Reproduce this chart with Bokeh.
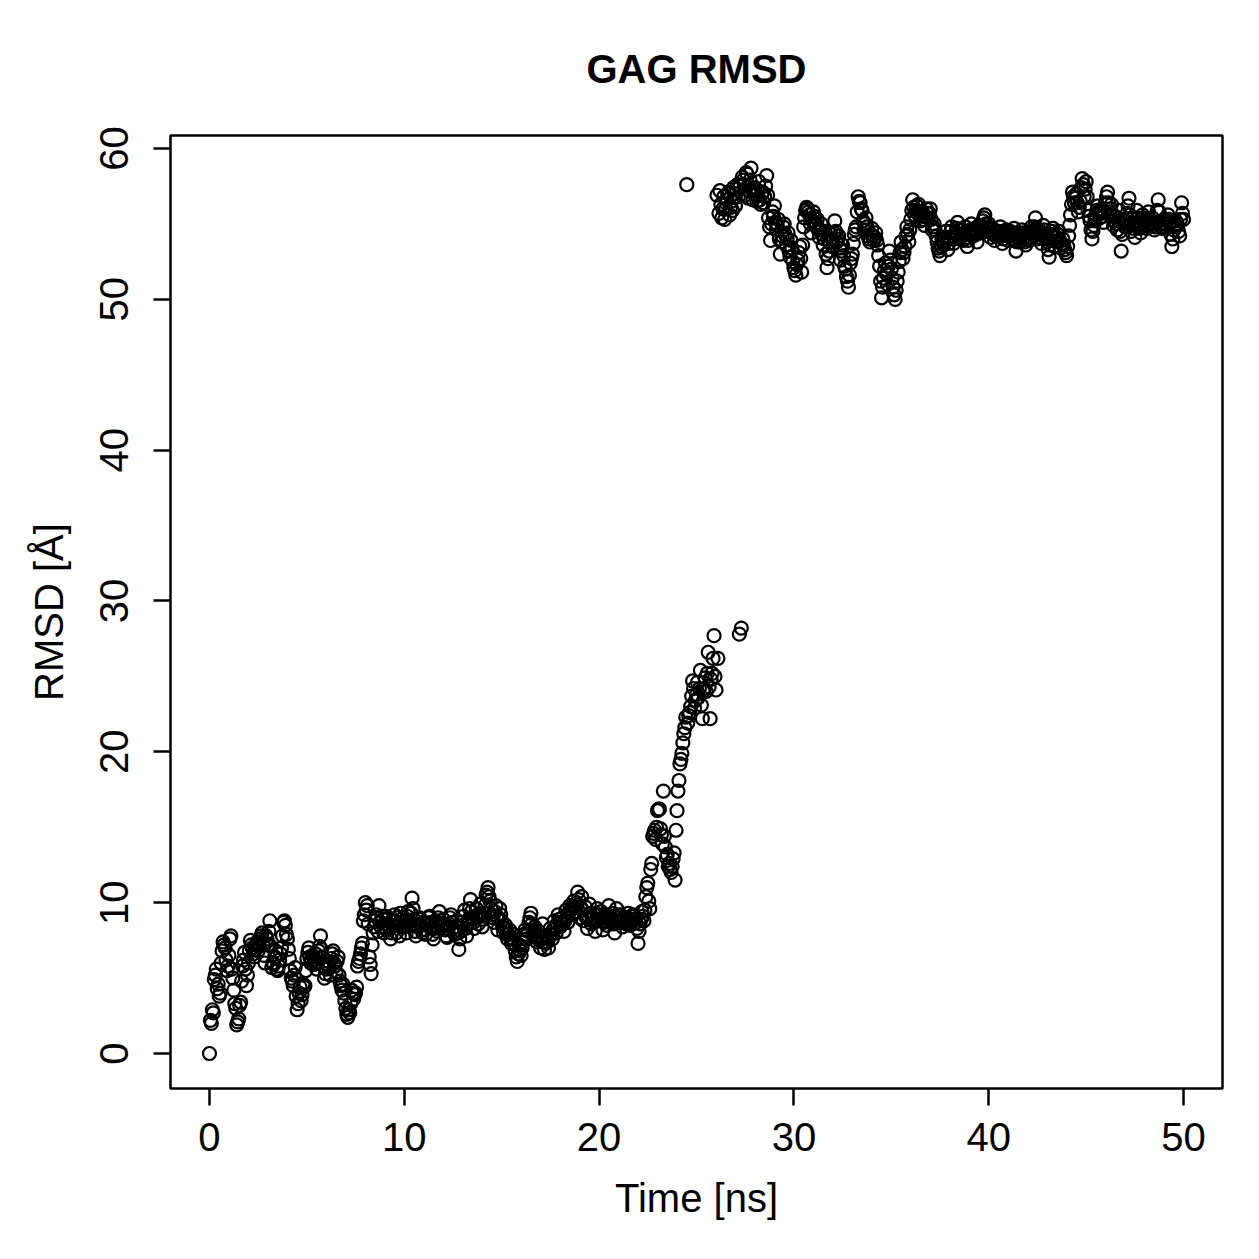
import numpy as np
from bokeh.plotting import figure
from bokeh.models import FixedTicker
from bokeh.embed import file_html
from bokeh.resources import INLINE

# GAG RMSD over a 50 ns trajectory, one frame every 0.05 ns.
# Frames at t = 0.0, 0.1, 0.2, ... (even frames)
rmsd_even_00_10 = [
    0.0, 2.0, 2.7, 5.2, 4.3, 3.8, 6.0, 7.4, 7.0, 5.5,
    6.5, 7.8, 5.0, 3.3, 1.9, 2.3, 3.4, 5.8, 6.7, 4.5,
    6.0, 7.5, 7.0, 6.4, 7.2, 6.8, 7.6, 8.0, 6.5, 7.8,
    7.2, 8.8, 5.7, 5.9, 6.8, 5.5, 6.2, 7.0, 8.7, 8.5,
    7.6, 6.3, 5.0, 4.5, 5.7, 2.9, 4.0, 3.5, 4.6, 4.5,
    6.3, 7.0, 6.0, 6.5, 6.2, 5.6, 6.8, 7.8, 6.4, 5.0,
    5.6, 6.1, 5.2, 6.6, 6.0, 5.4, 6.4, 4.8, 4.2, 4.0,
    3.0, 2.4, 2.7, 4.2, 3.6, 4.0, 5.8, 6.3, 7.0, 8.8,
    10.0, 9.8, 6.4, 5.3, 8.0, 8.8, 9.0, 9.8, 8.4, 8.9,
    8.6, 8.2, 9.0, 7.6, 8.9, 9.2, 8.0, 8.6, 9.3, 8.4,
]
rmsd_even_10_20 = [
    8.8, 8.0, 9.4, 8.5, 10.3, 8.9, 7.8, 8.4, 9.0, 8.2,
    8.7, 7.9, 8.6, 9.1, 8.3, 7.6, 8.8, 8.1, 9.4, 8.4,
    8.9, 8.2, 7.7, 8.6, 9.2, 8.3, 7.9, 8.8, 6.9, 8.1,
    8.5, 9.5, 7.8, 8.9, 10.2, 9.0, 8.3, 9.6, 8.6, 9.9,
    8.4, 9.3, 10.5, 11.0, 10.1, 9.2, 8.7, 9.8, 8.2, 9.6,
    8.8, 8.0, 8.5, 7.6, 8.2, 7.3, 7.9, 6.8, 6.1, 7.2,
    6.5, 7.4, 8.2, 7.6, 8.7, 9.3, 7.9, 8.4, 7.4, 8.1,
    7.0, 8.6, 6.9, 7.8, 7.0, 8.3, 7.6, 8.8, 8.0, 9.2,
    8.4, 9.0, 8.1, 9.5, 8.7, 9.8, 9.2, 10.1, 9.4, 10.7,
    9.0, 10.4, 8.8, 9.7, 8.3, 9.9, 8.6, 9.3, 8.1, 9.6,
]
rmsd_even_20_30 = [
    8.9, 9.4, 8.2, 9.1, 8.5, 9.8, 8.7, 9.3, 8.0, 9.6,
    8.8, 9.2, 8.4, 9.0, 8.6, 9.3, 8.5, 8.9, 9.1, 8.7,
    7.3, 8.6, 9.4, 8.8, 10.4, 11.3, 9.6, 12.6, 14.6, 14.2,
    16.1, 16.2, 14.5, 17.4, 13.7, 13.2, 12.6, 12.0, 12.9, 11.5,
    16.1, 18.1, 19.5, 20.6, 21.6, 57.6, 22.4, 23.0, 24.7, 22.9,
    23.8, 23.6, 25.4, 22.2, 24.2, 24.0, 26.6, 22.2, 25.2, 27.7,
    24.1, 26.2, 57.2, 55.4, 56.8, 56.0, 57.0, 55.6, 56.5, 57.4,
    56.2, 57.6, 27.8, 28.2, 57.9, 56.9, 58.3, 57.2, 58.7, 56.6,
    57.4, 56.5, 57.8, 56.3, 57.1, 56.8, 58.2, 55.4, 53.9, 55.8,
    56.2, 54.6, 55.3, 53.0, 54.2, 55.0, 53.6, 54.4, 52.8, 53.4,
]
rmsd_even_30_40 = [
    52.1, 51.6, 52.6, 53.5, 51.8, 54.8, 55.9, 56.0, 55.6, 54.4,
    55.8, 54.9, 55.3, 54.1, 55.0, 53.6, 54.5, 52.1, 53.2, 54.3,
    53.5, 55.2, 53.8, 54.2, 52.6, 53.6, 52.2, 51.5, 50.8, 52.4,
    53.0, 54.3, 54.8, 56.8, 56.4, 55.9, 54.6, 55.4, 54.2, 53.8,
    54.7, 53.9, 54.4, 53.6, 52.2, 50.1, 51.4, 52.4, 51.0, 53.2,
    52.0, 50.8, 50.0, 51.2, 52.5, 53.8, 52.7, 53.5, 54.8, 53.8,
    55.3, 56.6, 55.6, 56.2, 56.3, 55.2, 55.8, 54.9, 56.0, 55.4,
    56.0, 54.6, 55.0, 54.2, 53.4, 52.9, 54.0, 53.6, 54.5, 53.3,
    54.1, 54.8, 53.7, 54.4, 55.1, 54.0, 54.6, 53.9, 54.8, 53.5,
    54.3, 55.0, 54.2, 54.7, 53.8, 54.9, 54.4, 55.2, 55.6, 54.5,
]
rmsd_even_40_50 = [
    55.0, 54.1, 54.7, 53.9, 54.5, 54.2, 54.8, 53.7, 54.3, 54.6,
    53.9, 54.5, 54.0, 54.7, 53.2, 54.4, 53.8, 54.6, 54.1, 53.6,
    54.4, 53.9, 54.8, 54.2, 55.4, 54.0, 54.6, 53.7, 54.9, 54.2,
    53.8, 52.8, 54.3, 54.7, 53.5, 54.1, 54.5, 53.4, 54.0, 53.3,
    52.9, 54.2, 55.6, 57.1, 56.4, 57.0, 55.8, 56.5, 58.0, 56.8,
    57.8, 55.9, 55.2, 54.0, 54.9, 55.6, 56.2, 55.4, 56.0, 55.1,
    56.4, 57.1, 55.8, 56.3, 54.9, 55.5, 54.6, 55.9, 53.2, 55.3,
    54.8, 55.7, 56.7, 54.5, 55.4, 54.1, 55.9, 55.0, 54.4, 55.6,
    55.2, 54.7, 55.8, 54.9, 55.4, 54.6, 55.1, 56.6, 55.0, 54.7,
    55.3, 54.8, 55.6, 55.1, 53.5, 54.6, 55.2, 54.9, 54.2, 56.4,
    55.3,
]

# Frames at t = 0.05, 0.15, 0.25, ... (odd frames)
rmsd_odd_00_10 = [
    2.2, 2.9, 4.9, 5.6, 4.6, 4.0, 6.8, 7.2, 6.2, 5.8,
    7.6, 5.6, 4.2, 3.0, 2.1, 3.2, 4.8, 6.2, 5.6, 5.2,
    6.8, 7.2, 6.6, 6.9, 7.4, 7.1, 7.8, 7.3, 6.0, 7.6,
    8.1, 7.1, 6.0, 6.4, 5.6, 5.8, 6.6, 7.8, 8.8, 7.9,
    6.9, 5.5, 4.8, 5.2, 3.8, 3.3, 4.4, 3.9, 4.4, 5.5,
    6.7, 6.4, 6.2, 5.9, 6.6, 6.0, 7.1, 6.9, 5.8, 5.3,
    5.9, 5.7, 6.3, 6.8, 5.8, 6.1, 5.2, 4.5, 4.6, 3.5,
    2.6, 2.9, 3.3, 4.0, 3.9, 4.4, 6.1, 6.6, 7.3, 9.2,
    9.5, 8.6, 5.9, 7.2, 8.4, 9.2, 8.1, 8.7, 9.1, 8.0,
    9.1, 8.5, 8.3, 8.0, 8.8, 8.5, 9.0, 7.8, 8.7, 9.0,
]
rmsd_odd_10_20 = [
    8.4, 9.1, 8.7, 9.3, 9.6, 8.1, 8.5, 8.9, 8.6, 8.0,
    8.2, 8.5, 9.0, 8.7, 7.9, 8.3, 8.5, 9.0, 8.8, 8.6,
    8.5, 7.8, 8.3, 9.0, 8.7, 8.1, 8.4, 8.0, 7.6, 8.7,
    9.1, 8.3, 8.6, 9.6, 9.4, 8.7, 9.1, 9.0, 9.3, 9.1,
    8.9, 9.8, 10.7, 10.4, 9.6, 9.0, 9.4, 9.1, 8.9, 9.2,
    8.4, 8.3, 7.9, 7.9, 7.7, 7.6, 7.3, 6.4, 6.6, 6.8,
    7.0, 7.9, 7.8, 8.1, 9.0, 8.6, 8.1, 7.7, 7.8, 7.5,
    7.8, 7.4, 7.3, 7.4, 7.7, 7.9, 8.2, 8.4, 8.6, 8.9,
    8.7, 8.6, 8.8, 9.1, 9.3, 9.5, 9.7, 9.7, 10.0, 10.2,
    9.7, 9.5, 9.2, 9.0, 9.1, 9.3, 8.9, 8.7, 8.8, 9.2,
]
rmsd_odd_20_30 = [
    9.2, 8.8, 8.7, 8.8, 9.2, 9.1, 8.9, 8.6, 8.8, 9.2,
    9.0, 8.7, 8.8, 8.7, 8.9, 8.8, 8.7, 9.2, 8.9, 8.3,
    8.1, 8.9, 9.1, 9.5, 11.0, 10.1, 12.2, 14.4, 14.8, 15.0,
    16.2, 14.9, 13.9, 14.4, 13.0, 12.4, 12.2, 12.4, 13.3, 14.8,
    17.4, 19.2, 19.9, 21.2, 22.3, 21.9, 22.6, 23.7, 24.2, 23.4,
    24.6, 24.2, 23.1, 24.0, 24.9, 25.2, 24.3, 24.8, 26.2, 25.0,
    56.9, 55.7, 56.3, 56.0, 55.3, 56.6, 57.1, 56.1, 55.9, 57.0,
    57.3, 56.8, 57.5, 58.1, 57.6, 58.4, 56.7, 57.9, 57.3, 57.0,
    56.9, 57.2, 56.6, 57.0, 56.4, 57.5, 56.9, 54.8, 55.0, 55.5,
    55.1, 54.9, 54.0, 53.8, 54.8, 54.3, 54.0, 53.2, 53.9, 52.5,
]
rmsd_odd_30_40 = [
    51.9, 52.3, 53.1, 52.7, 53.6, 55.4, 56.1, 55.8, 55.0, 55.2,
    55.5, 55.0, 54.6, 54.6, 54.3, 54.0, 53.0, 52.7, 53.8, 54.0,
    54.4, 54.5, 54.0, 53.4, 53.2, 52.9, 52.0, 51.2, 51.6, 52.7,
    53.7, 54.6, 55.8, 56.5, 56.0, 55.2, 55.0, 54.8, 54.0, 54.3,
    54.2, 54.1, 53.9, 52.9, 51.2, 50.8, 51.9, 51.7, 52.2, 52.6,
    51.4, 50.3, 50.6, 51.8, 53.1, 53.3, 53.1, 54.2, 54.3, 54.6,
    55.9, 56.1, 55.9, 55.7, 55.8, 55.5, 55.3, 55.5, 55.7, 55.7,
    55.3, 54.8, 54.6, 53.8, 53.2, 53.5, 53.8, 54.1, 53.9, 53.7,
    54.5, 54.2, 54.0, 54.7, 54.6, 54.3, 54.2, 54.4, 54.1, 53.9,
    54.6, 54.6, 54.5, 54.3, 54.4, 54.6, 54.8, 55.4, 55.0, 54.8,
]
rmsd_odd_40_50 = [
    54.6, 54.4, 54.3, 54.2, 54.4, 54.5, 54.2, 54.0, 54.5, 54.2,
    54.2, 54.3, 54.4, 53.9, 53.8, 54.1, 54.2, 54.4, 53.8, 54.0,
    54.1, 54.4, 54.5, 54.8, 54.7, 54.3, 54.1, 54.3, 54.6, 54.0,
    53.3, 53.6, 54.5, 54.1, 53.8, 54.3, 53.9, 53.7, 53.6, 53.1,
    53.5, 54.9, 56.3, 56.8, 56.7, 56.4, 56.1, 57.4, 57.6, 57.3,
    56.8, 55.5, 54.6, 54.5, 55.2, 55.9, 55.8, 55.7, 55.5, 55.8,
    56.8, 56.4, 56.0, 55.6, 55.2, 55.0, 55.2, 54.5, 54.3, 55.0,
    55.2, 56.2, 55.6, 55.0, 54.7, 55.0, 55.4, 54.7, 55.0, 55.4,
    54.9, 55.3, 55.3, 55.1, 55.0, 54.8, 55.9, 55.8, 54.8, 55.0,
    55.0, 55.2, 55.3, 54.3, 54.0, 54.9, 55.0, 54.5, 55.3, 55.7,
]

x_ticks = [0, 10, 20, 30, 40, 50]
y_ticks = [0, 10, 20, 30, 40, 50, 60]

even = (rmsd_even_00_10 + rmsd_even_10_20 + rmsd_even_20_30
        + rmsd_even_30_40 + rmsd_even_40_50)
odd = (rmsd_odd_00_10 + rmsd_odd_10_20 + rmsd_odd_20_30
       + rmsd_odd_30_40 + rmsd_odd_40_50)

rmsd = np.empty(len(even) + len(odd))
rmsd[0::2] = even
rmsd[1::2] = odd
time_ns = np.round(np.arange(len(rmsd)) * 0.05, 2)

FONT = "Liberation Sans"

p = figure(
    width=1259, height=1259,
    x_range=(-2.0, 52.0), y_range=(-2.32, 60.86),
    output_backend="svg", toolbar_location=None,
    min_border_left=170, min_border_right=37,
    min_border_top=135, min_border_bottom=171,
    title="GAG RMSD",
)
p.background_fill_color = "white"
p.border_fill_color = "white"
p.outline_line_color = "black"
p.outline_line_width = 2.5

p.title.align = "center"
p.title.text_font = FONT
p.title.text_font_size = "40px"
p.title.text_font_style = "bold"
p.title.text_color = "black"
p.title.standoff = 89

p.xgrid.visible = False
p.ygrid.visible = False

for ax in (p.xaxis[0], p.yaxis[0]):
    ax.axis_line_color = None
    ax.major_tick_line_color = "black"
    ax.major_tick_line_width = 2.5
    ax.major_tick_out = 17
    ax.major_tick_in = 0
    ax.minor_tick_line_color = None
    ax.major_label_text_font = FONT
    ax.major_label_text_font_size = "40px"
    ax.major_label_text_color = "black"
    ax.axis_label_text_font = FONT
    ax.axis_label_text_font_size = "40px"
    ax.axis_label_text_font_style = "normal"
    ax.axis_label_text_color = "black"

p.xaxis.ticker = FixedTicker(ticks=x_ticks)
p.yaxis.ticker = FixedTicker(ticks=y_ticks)
p.xaxis.axis_label = "Time [ns]"
p.yaxis.axis_label = "RMSD [Å]"
p.xaxis.major_label_standoff = 17
p.xaxis.axis_label_standoff = 22
p.yaxis.major_label_orientation = "vertical"
p.yaxis.major_label_standoff = 25
p.yaxis.axis_label_standoff = 27

p.scatter(
    time_ns, rmsd, marker="circle", size=13,
    fill_color=None, line_color="black", line_width=2.2,
)

open("out.html", "w").write(file_html(p, INLINE))
